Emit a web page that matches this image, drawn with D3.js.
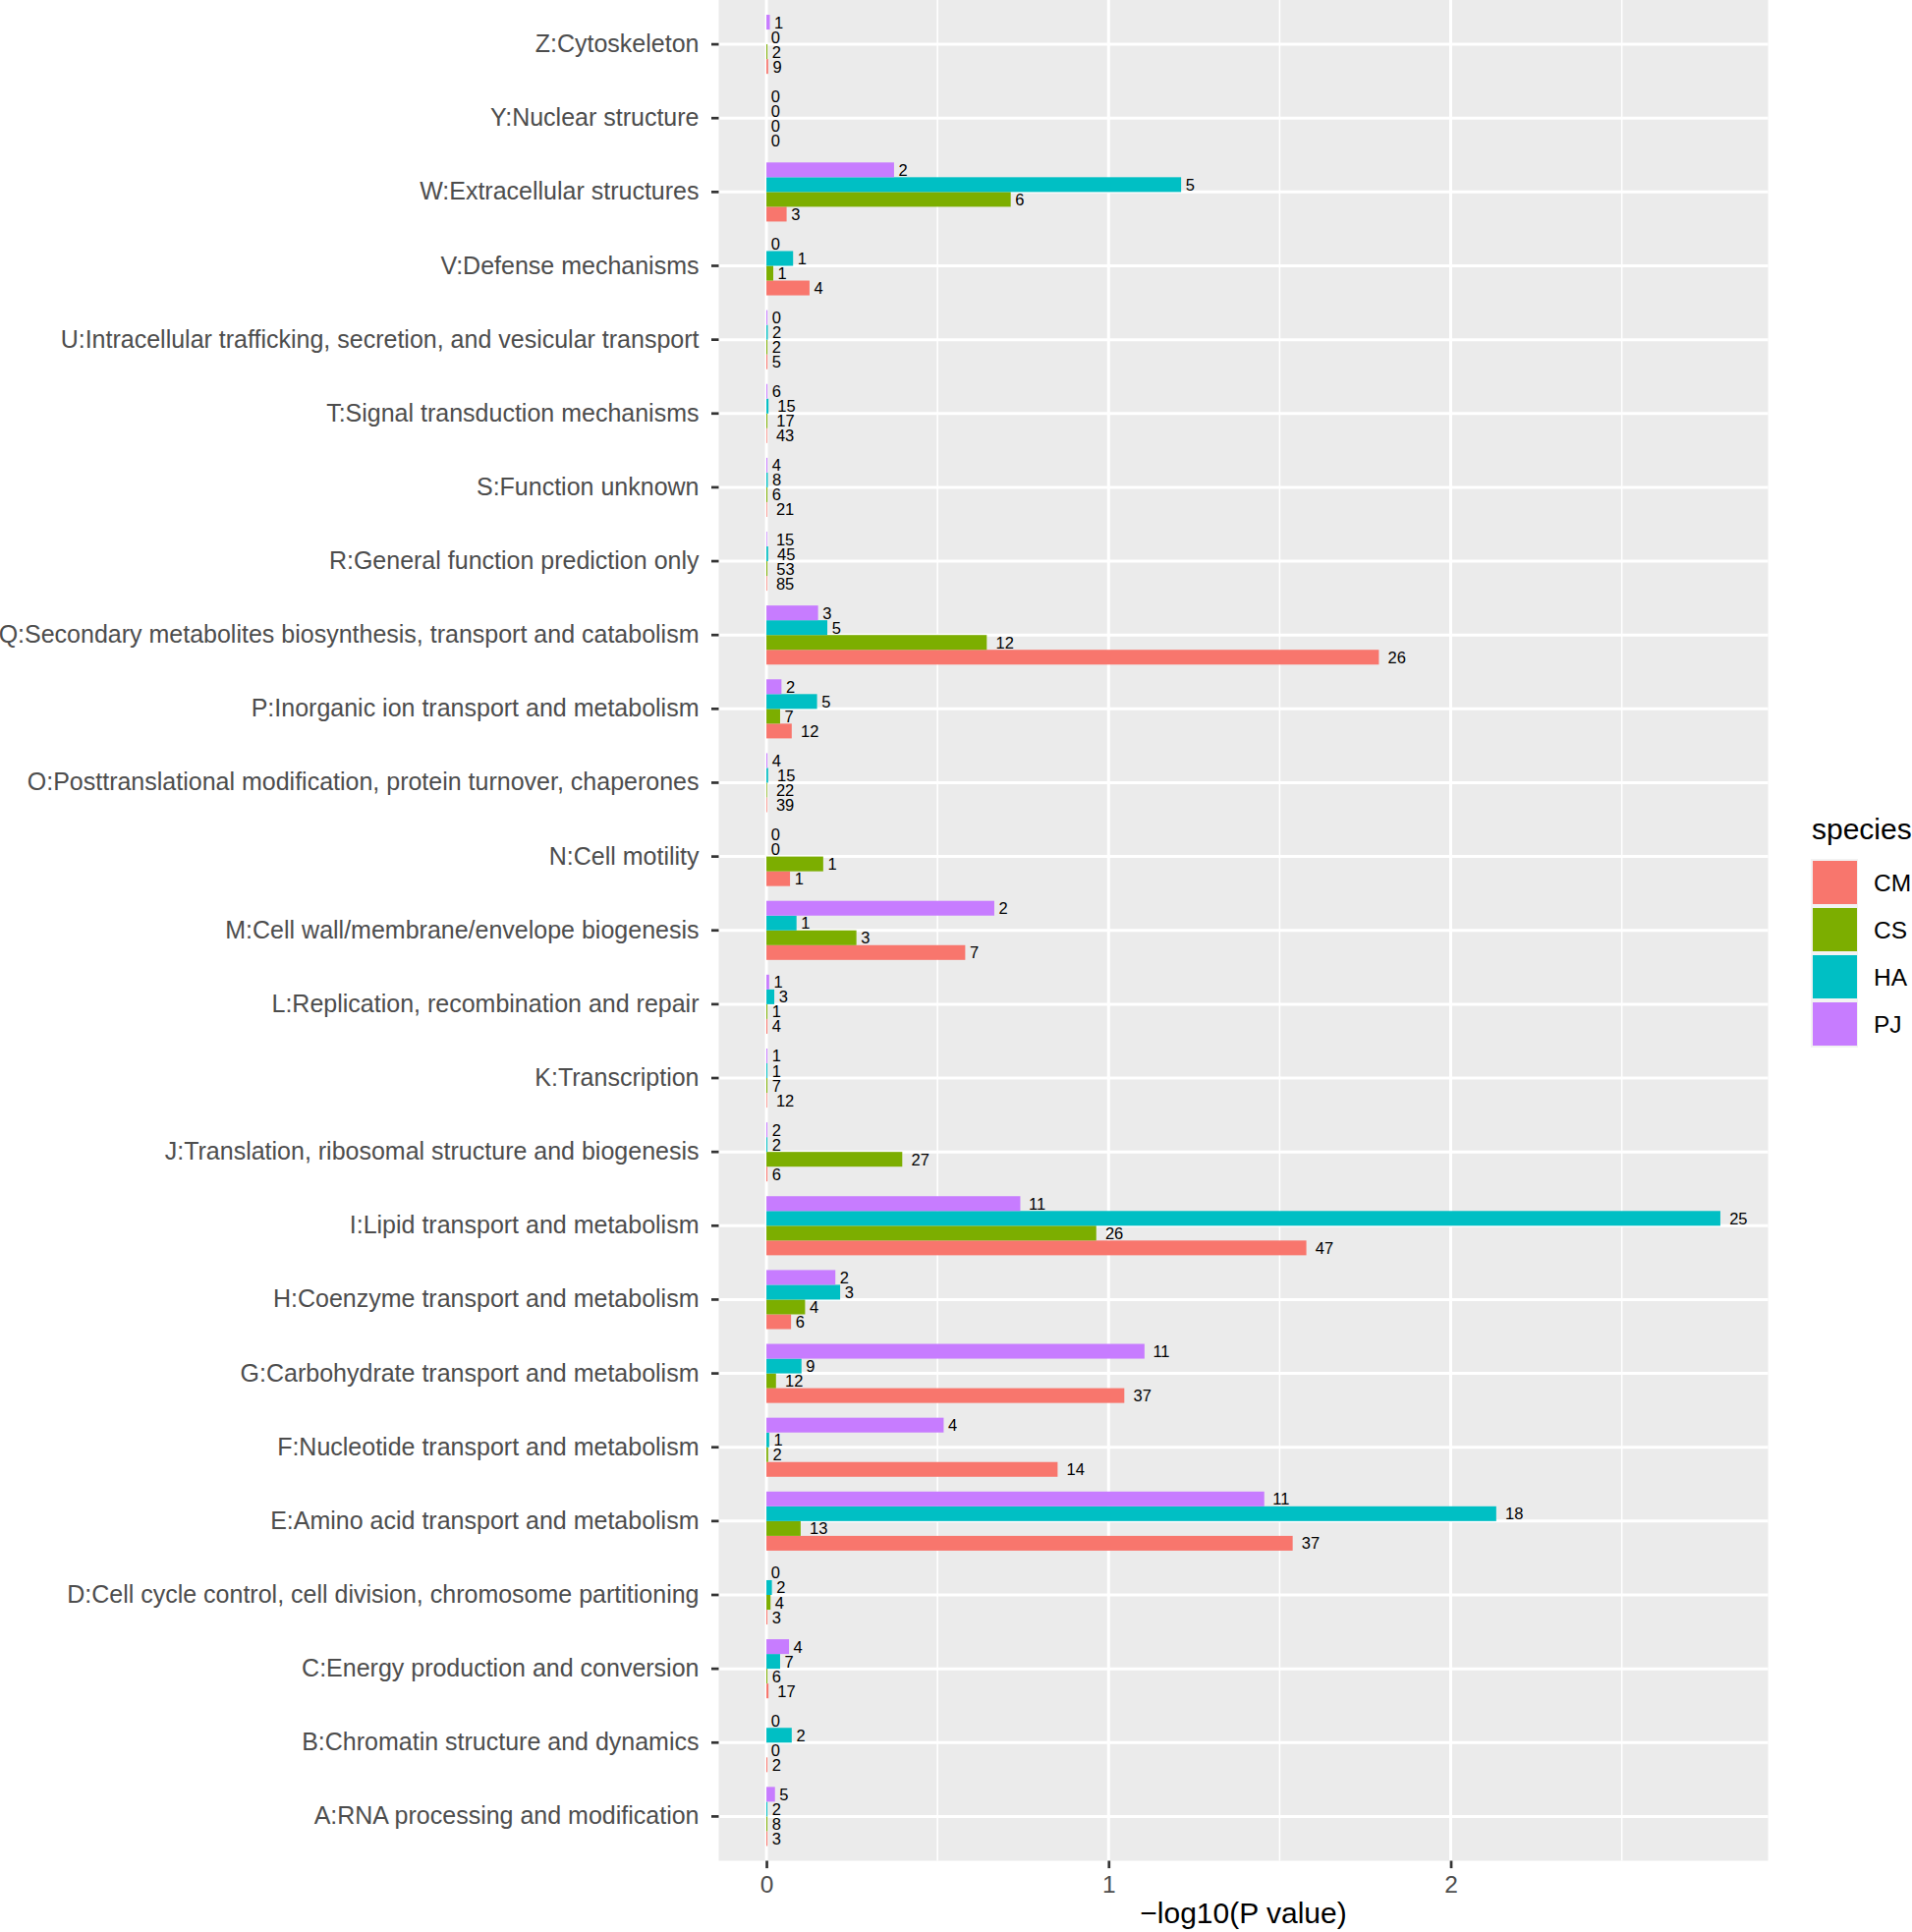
<!DOCTYPE html>
<html>
<head>
<meta charset="utf-8">
<script src="https://cdn.jsdelivr.net/npm/d3@7"></script>
<style>
  html, body { margin: 0; padding: 0; background: #ffffff; }
  svg { display: block; font-family: "Liberation Sans", Arial, Helvetica, sans-serif; }
</style>
</head>
<body>
<svg id="chart" width="1946" height="1966"></svg>
<script>
// Categories, top to bottom as drawn
const categories = [
  "Z:Cytoskeleton",
  "Y:Nuclear structure",
  "W:Extracellular structures",
  "V:Defense mechanisms",
  "U:Intracellular trafficking, secretion, and vesicular transport",
  "T:Signal transduction mechanisms",
  "S:Function unknown",
  "R:General function prediction only",
  "Q:Secondary metabolites biosynthesis, transport and catabolism",
  "P:Inorganic ion transport and metabolism",
  "O:Posttranslational modification, protein turnover, chaperones",
  "N:Cell motility",
  "M:Cell wall/membrane/envelope biogenesis",
  "L:Replication, recombination and repair",
  "K:Transcription",
  "J:Translation, ribosomal structure and biogenesis",
  "I:Lipid transport and metabolism",
  "H:Coenzyme transport and metabolism",
  "G:Carbohydrate transport and metabolism",
  "F:Nucleotide transport and metabolism",
  "E:Amino acid transport and metabolism",
  "D:Cell cycle control, cell division, chromosome partitioning",
  "C:Energy production and conversion",
  "B:Chromatin structure and dynamics",
  "A:RNA processing and modification"
];

const species = ["CM", "CS", "HA", "PJ"];
const speciesColors = ["#F8766D", "#7CAE00", "#00BFC4", "#C77CFF"];

// -log10(P value), one array per species, same order as categories
const valCM = [0.005, 0, 0.059, 0.126, 0.003, 0.002, 0.002, 0.002, 1.790, 0.074, 0.002, 0.069, 0.581, 0.003, 0.002, 0.003, 1.578, 0.072, 1.046, 0.851, 1.538, 0.003, 0.006, 0.003, 0.003];
const valCS = [0.003, 0, 0.714, 0.020, 0.003, 0.003, 0.003, 0.003, 0.644, 0.040, 0.002, 0.166, 0.263, 0.003, 0.003, 0.397, 0.964, 0.113, 0.028, 0.005, 0.100, 0.012, 0.003, 0, 0.003];
const valHA = [0, 0, 1.212, 0.078, 0.004, 0.006, 0.004, 0.005, 0.178, 0.148, 0.005, 0, 0.088, 0.023, 0.003, 0.003, 2.788, 0.2155, 0.1025, 0.008, 2.133, 0.016, 0.040, 0.074, 0.003];
const valPJ = [0.010, 0, 0.373, 0, 0.003, 0.003, 0.003, 0.002, 0.151, 0.044, 0.003, 0, 0.666, 0.008, 0.003, 0.003, 0.742, 0.2015, 1.105, 0.518, 1.455, 0, 0.066, 0, 0.025];

// gene counts shown as bar labels
const cntCM = [9, 0, 3, 4, 5, 43, 21, 85, 26, 12, 39, 1, 7, 4, 12, 6, 47, 6, 37, 14, 37, 3, 17, 2, 3];
const cntCS = [2, 0, 6, 1, 2, 17, 6, 53, 12, 7, 22, 1, 3, 1, 7, 27, 26, 4, 12, 2, 13, 4, 6, 0, 8];
const cntHA = [0, 0, 5, 1, 2, 15, 8, 45, 5, 5, 15, 0, 1, 3, 1, 2, 25, 3, 9, 1, 18, 2, 7, 2, 2];
const cntPJ = [1, 0, 2, 0, 0, 6, 4, 15, 3, 2, 4, 0, 2, 1, 1, 2, 11, 2, 11, 4, 11, 0, 4, 0, 5];

const xTicks = [0, 1, 2];
const xMinor = [0.5, 1.5, 2.5];

const seriesVals = { CM: valCM, CS: valCS, HA: valHA, PJ: valPJ };
const seriesCnts = { CM: cntCM, CS: cntCS, HA: cntHA, PJ: cntPJ };

const rows = [];
categories.forEach((c, i) => {
  species.forEach(s => {
    rows.push({ cat: c, sp: s, v: seriesVals[s][i], n: seriesCnts[s][i] });
  });
});

const svg = d3.select("#chart");
const panel = { left: 731.5, right: 1799.5, top: 0, bottom: 1893.5 };

const maxV = d3.max(rows, d => d.v);
const x = d3.scaleLinear()
  .domain([-0.05 * maxV, 1.05 * maxV])
  .range([panel.left, panel.right]);

const y = d3.scaleBand()
  .domain(categories)
  .range([panel.top, panel.bottom])
  .paddingInner(0)
  .paddingOuter(0.1);

const step = y.step();
const dodgeOrder = ["PJ", "HA", "CS", "CM"]; // top to bottom within a group
const yInner = d3.scaleBand()
  .domain(dodgeOrder)
  .range([-0.4 * step, 0.4 * step]);

const color = d3.scaleOrdinal().domain(species).range(speciesColors);

// panel background
svg.append("rect")
  .attr("x", panel.left).attr("y", panel.top)
  .attr("width", panel.right - panel.left)
  .attr("height", panel.bottom - panel.top)
  .attr("fill", "#EBEBEB");

const grid = svg.append("g");
grid.selectAll(".minor").data(xMinor).join("line")
  .attr("x1", d => x(d)).attr("x2", d => x(d))
  .attr("y1", panel.top).attr("y2", panel.bottom)
  .attr("stroke", "#ffffff").attr("stroke-width", 1.5);
grid.selectAll(".majx").data(xTicks).join("line")
  .attr("x1", d => x(d)).attr("x2", d => x(d))
  .attr("y1", panel.top).attr("y2", panel.bottom)
  .attr("stroke", "#ffffff").attr("stroke-width", 3);
grid.selectAll(".majy").data(categories).join("line")
  .attr("x1", panel.left).attr("x2", panel.right)
  .attr("y1", d => y(d) + step / 2).attr("y2", d => y(d) + step / 2)
  .attr("stroke", "#ffffff").attr("stroke-width", 3);

// bars
const center = c => y(c) + step / 2;
svg.append("g").selectAll("rect").data(rows).join("rect")
  .attr("x", x(0))
  .attr("y", d => center(d.cat) + yInner(d.sp))
  .attr("width", d => Math.max(0, x(d.v) - x(0)))
  .attr("height", yInner.bandwidth())
  .attr("fill", d => color(d.sp));

// bar labels (hjust = -0.5)
const labels = svg.append("g").selectAll("text").data(rows).join("text")
  .attr("y", d => center(d.cat) + yInner(d.sp) + yInner.bandwidth() / 2)
  .attr("dominant-baseline", "central")
  .attr("font-size", 16.5)
  .attr("fill", "#000")
  .text(d => d.n);
labels.each(function(d) {
  const w = this.getComputedTextLength();
  d3.select(this).attr("x", x(d.v) + 0.5 * w);
});

// y axis
const yAxisG = svg.append("g")
  .attr("transform", `translate(${panel.left},0)`)
  .call(d3.axisLeft(y).tickSize(7.5).tickPadding(12.5));
yAxisG.select(".domain").remove();
yAxisG.selectAll(".tick line").attr("stroke", "#333333").attr("stroke-width", 2.7);
yAxisG.selectAll(".tick text")
  .attr("font-size", 25)
  .attr("fill", "#4D4D4D")
  .attr("font-family", "Liberation Sans, Arial, sans-serif");

// x axis
const xAxisG = svg.append("g")
  .attr("transform", `translate(0,${panel.bottom})`)
  .call(d3.axisBottom(x).tickValues(xTicks).tickFormat(d3.format("d")).tickSize(7.6).tickPadding(8));
xAxisG.select(".domain").remove();
xAxisG.selectAll(".tick line").attr("stroke", "#333333").attr("stroke-width", 2.7);
xAxisG.selectAll(".tick text")
  .attr("font-size", 24.5)
  .attr("fill", "#4D4D4D")
  .attr("font-family", "Liberation Sans, Arial, sans-serif");

svg.append("text")
  .attr("x", (panel.left + panel.right) / 2)
  .attr("y", 1957)
  .attr("text-anchor", "middle")
  .attr("font-size", 30)
  .attr("fill", "#000")
  .text("\u2212log10(P value)");

// legend
const legend = svg.append("g");
legend.append("text")
  .attr("x", 1844).attr("y", 854)
  .attr("font-size", 30)
  .attr("fill", "#000")
  .text("species");
const keyTop = 874, keyStep = 48;
species.forEach((s, i) => {
  const ky = keyTop + i * keyStep;
  legend.append("rect")
    .attr("x", 1843).attr("y", ky).attr("width", 48).attr("height", 48)
    .attr("fill", "#F2F2F2");
  legend.append("rect")
    .attr("x", 1845).attr("y", ky + 2).attr("width", 45).attr("height", 44)
    .attr("fill", color(s));
  legend.append("text")
    .attr("x", 1907).attr("y", ky + 24)
    .attr("dominant-baseline", "central")
    .attr("font-size", 24.5)
    .attr("fill", "#000")
    .text(s);
});
</script>
</body>
</html>
